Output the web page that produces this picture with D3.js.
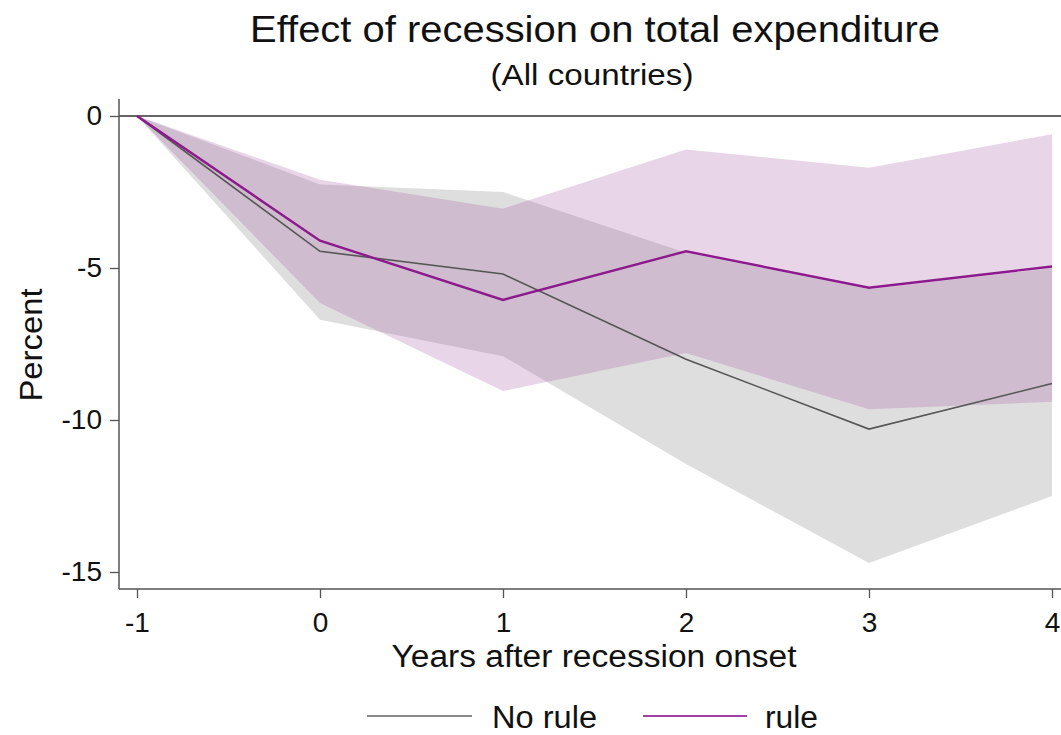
<!DOCTYPE html>
<html>
<head>
<meta charset="utf-8">
<script src="https://cdn.jsdelivr.net/npm/d3@7"></script>
<style>
  html, body { margin: 0; padding: 0; background: #fff; }
  svg { display: block; font-family: "Liberation Sans", Arial, sans-serif; }
</style>
</head>
<body>
<svg id="chart" width="1061" height="735"></svg>
<script>
// Years relative to recession onset
const years = [-1, 0, 1, 2, 3, 4];
const xTicks = [-1, 0, 1, 2, 3, 4];
const yTicks = [0, -5, -10, -15];

// "No rule" countries: point estimate and confidence band
const noRule   = [0, -4.45, -5.2, -8.0, -10.3, -8.8];
const noRuleLo = [0, -6.7, -7.9, -11.45, -14.7, -12.5];
const noRuleHi = [0, -2.25, -2.5, -4.5, -5.7, -5.0];

// "rule" countries: point estimate and confidence band
const rule   = [0, -4.1, -6.05, -4.45, -5.65, -4.95];
const ruleLo = [0, -6.15, -9.05, -7.8, -9.65, -9.4];
const ruleHi = [0, -2.1, -3.05, -1.1, -1.7, -0.6];

const seriesNames = ["No rule", "rule"];

const svg = d3.select("#chart");

const x = d3.scaleLinear().domain([-1, 4]).range([137, 1052]);
const y = d3.scaleLinear().domain([0, -15]).range([116, 572]);

const axisLeftX = 119;
const axisBottomY = 589;
const plainNumber = d => String(d);

const bandArea = (lo, hi) => d3.area()
  .x((d, i) => x(years[i]))
  .y0((d, i) => y(lo[i]))
  .y1((d, i) => y(hi[i]));

const seriesLine = vals => d3.line()
  .x((d, i) => x(years[i]))
  .y((d, i) => y(vals[i]));

// confidence bands
svg.append("path")
  .attr("d", bandArea(noRuleLo, noRuleHi)(years))
  .attr("fill", "#dedede");
svg.append("path")
  .attr("d", bandArea(ruleLo, ruleHi)(years))
  .attr("fill", "rgb(160,80,160)")
  .attr("fill-opacity", 0.24);

// zero reference line
svg.append("line")
  .attr("x1", axisLeftX).attr("x2", 1061)
  .attr("y1", y(0)).attr("y2", y(0))
  .attr("stroke", "#333").attr("stroke-width", 1.5);

// point estimates
svg.append("path")
  .attr("d", seriesLine(noRule)(years))
  .attr("fill", "none").attr("stroke", "#555").attr("stroke-width", 1.6);
svg.append("path")
  .attr("d", seriesLine(rule)(years))
  .attr("fill", "none").attr("stroke", "#8c1a8c").attr("stroke-width", 2.4);

// y axis
const yAxis = svg.append("g")
  .attr("transform", `translate(${axisLeftX},0)`)
  .call(d3.axisLeft(y).tickValues(yTicks).tickSize(9).tickPadding(8).tickFormat(plainNumber));
yAxis.select(".domain").remove();
yAxis.append("line")
  .attr("x1", 0).attr("x2", 0)
  .attr("y1", 99).attr("y2", axisBottomY)
  .attr("stroke", "#555").attr("stroke-width", 1.5);
yAxis.selectAll(".tick line").attr("stroke", "#555").attr("stroke-width", 1.3);
yAxis.selectAll(".tick text")
  .attr("font-size", 28).attr("fill", "#111")
  .attr("font-family", "Liberation Sans, Arial, sans-serif");

// x axis
const xAxis = svg.append("g")
  .attr("transform", `translate(0,${axisBottomY})`)
  .call(d3.axisBottom(x).tickValues(xTicks).tickSize(9).tickPadding(14).tickFormat(plainNumber));
xAxis.select(".domain").remove();
xAxis.append("line")
  .attr("x1", axisLeftX).attr("x2", 1061)
  .attr("y1", 0).attr("y2", 0)
  .attr("stroke", "#555").attr("stroke-width", 1.5);
xAxis.selectAll(".tick line").attr("stroke", "#555").attr("stroke-width", 1.3);
xAxis.selectAll(".tick text")
  .attr("font-size", 28).attr("fill", "#111")
  .attr("font-family", "Liberation Sans, Arial, sans-serif");

// titles
svg.append("text")
  .attr("x", 595).attr("y", 42)
  .attr("text-anchor", "middle")
  .attr("font-size", 36).attr("fill", "#111")
  .attr("textLength", 690).attr("lengthAdjust", "spacingAndGlyphs")
  .text("Effect of recession on total expenditure");
svg.append("text")
  .attr("x", 592).attr("y", 85)
  .attr("text-anchor", "middle")
  .attr("font-size", 30).attr("fill", "#111")
  .attr("textLength", 203).attr("lengthAdjust", "spacingAndGlyphs")
  .text("(All countries)");

svg.append("text")
  .attr("x", 594).attr("y", 667)
  .attr("text-anchor", "middle")
  .attr("font-size", 31).attr("fill", "#111")
  .attr("textLength", 405).attr("lengthAdjust", "spacingAndGlyphs")
  .text("Years after recession onset");

svg.append("text")
  .attr("transform", "translate(42,345) rotate(-90)")
  .attr("text-anchor", "middle")
  .attr("font-size", 31).attr("fill", "#111")
  .attr("textLength", 113).attr("lengthAdjust", "spacingAndGlyphs")
  .text("Percent");

// legend
const legendItems = [
  { name: seriesNames[0], color: "#8a8a8a", x0: 367, x1: 472, tx: 492, tw: 105 },
  { name: seriesNames[1], color: "#a040a0", x0: 643, x1: 747, tx: 765, tw: 53 }
];
const lg = svg.append("g");
legendItems.forEach(d => {
  lg.append("line")
    .attr("x1", d.x0).attr("x2", d.x1)
    .attr("y1", 716).attr("y2", 716)
    .attr("stroke", d.color).attr("stroke-width", 2);
  lg.append("text")
    .attr("x", d.tx).attr("y", 728)
    .attr("font-size", 31).attr("fill", "#111")
    .attr("textLength", d.tw).attr("lengthAdjust", "spacingAndGlyphs")
    .text(d.name);
});
</script>
</body>
</html>
